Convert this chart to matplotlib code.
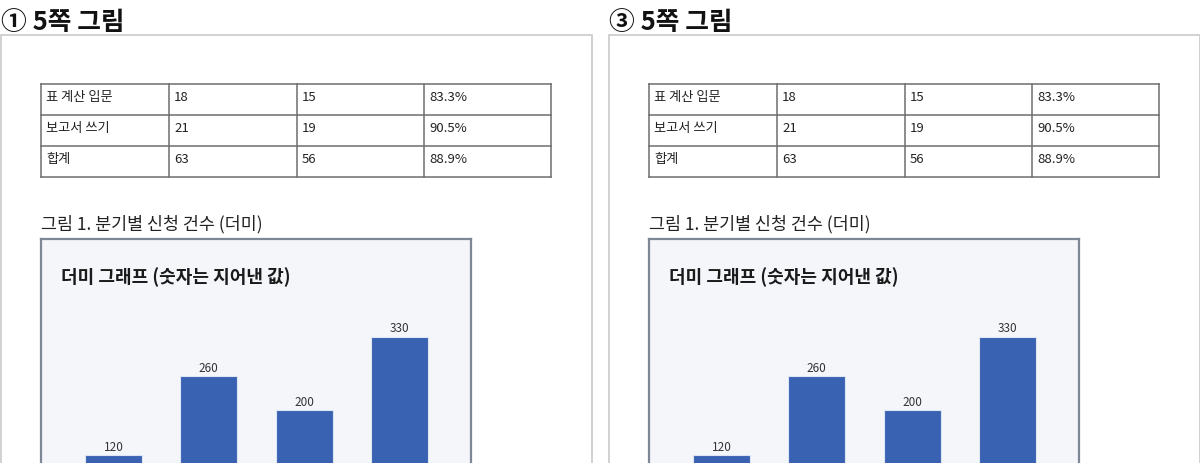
import matplotlib
matplotlib.use('Agg')
import matplotlib.pyplot as plt
from matplotlib.patches import Rectangle

plt.rcParams['font.family'] = ['Noto Sans CJK KR', 'DejaVu Sans']

W, H = 1200, 464

panel_titles = ['① 5쪽 그림', '③ 5쪽 그림']
panel_offsets = [0, 608]

table_rows = [
    ['표 계산 입문', '18', '15', '83.3%'],
    ['보고서 쓰기', '21', '19', '90.5%'],
    ['합계', '63', '56', '88.9%'],
]
caption = '그림 1. 분기별 신청 건수 (더미)'
chart_title = '더미 그래프 (숫자는 지어낸 값)'
quarters = ['1분기', '2분기', '3분기', '4분기']
counts = [120, 260, 200, 330]

fig = plt.figure(figsize=(W / 100, H / 100), dpi=100)


def px_axes(x, y, w, h, **kw):
    # x, y = top-left corner in image pixels
    return fig.add_axes([x / W, 1 - (y + h) / H, w / W, h / H], **kw)


def draw_panel(ox, heading):
    fig.text((ox + 1) / W, 1 - 22 / H, heading, fontsize=18.5, fontweight='bold',
             va='center', ha='left', color='#111111')
    # page frame
    fig.patches.append(Rectangle(((ox + 0.5) / W, -0.1), 591 / W, 1.1 - 36.5 / H,
                                 transform=fig.transFigure, fill=False,
                                 edgecolor='#c9c9c9', linewidth=1.2))

    # table
    col_x = [41, 169, 297, 424, 551]
    row_y = [85, 116, 147, 178]
    tab = px_axes(ox + col_x[0], row_y[0], col_x[-1] - col_x[0], row_y[-1] - row_y[0])
    tab.set_xlim(col_x[0], col_x[-1])
    tab.set_ylim(row_y[-1], row_y[0])
    tab.axis('off')
    for x in col_x:
        tab.plot([x, x], [row_y[0], row_y[-1]], color='#6e6e6e', lw=1.1, clip_on=False)
    for y in row_y:
        tab.plot([col_x[0], col_x[-1]], [y, y], color='#6e6e6e', lw=1.1, clip_on=False)
    for i, row in enumerate(table_rows):
        for j, cell in enumerate(row):
            tab.text(col_x[j] + 5, row_y[i] + 12.5, cell, fontsize=9.5, va='center',
                     ha='left', color='#222222')

    fig.text((ox + 41) / W, 1 - 224 / H, caption, fontsize=12.5, va='center',
             ha='left', color='#222222')

    # chart box
    box = px_axes(ox + 41, 240, 430, 300)
    box.set_facecolor('#f4f6fa')
    box.set_xticks([])
    box.set_yticks([])
    for s in box.spines.values():
        s.set_color('#7d8796')
        s.set_linewidth(1.6)
    box.text(20 / 430, 1 - 37 / 300, chart_title, transform=box.transAxes,
             fontsize=13, fontweight='bold', va='center', ha='left', color='#1a1a1a')

    ax = px_axes(ox + 65.8, 523.7 - 203, 381.4, 203)
    ax.patch.set_alpha(0)
    ax.bar(range(len(counts)), counts, width=0.6, color='#3a62b3',
           edgecolor='#dfe6f3', linewidth=0.8)
    ax.set_xlim(-0.5, 3.5)
    ax.set_ylim(0, 360)
    ax.axis('off')
    for i, v in enumerate(counts):
        ax.text(i, v + 4, str(v), ha='center', va='bottom', fontsize=8.5,
                color='#333333')


for ox, heading in zip(panel_offsets, panel_titles):
    draw_panel(ox, heading)

fig.savefig('out.png', dpi=100)
plt.close(fig)
